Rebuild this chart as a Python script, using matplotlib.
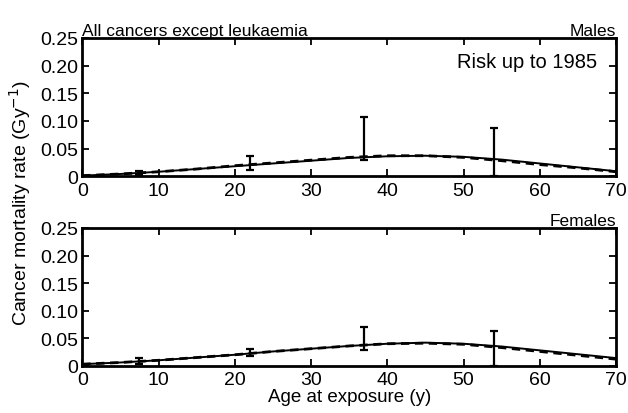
import matplotlib.pyplot as plt

plt.rcParams['font.family'] = ['Liberation Sans', 'DejaVu Sans']

# fitted curves (age at exposure vs rate)
curve_age = [0, 5, 10, 15, 20, 25, 30, 35, 40, 45, 50, 55, 60, 65, 70]
males_solid = [0.001, 0.004, 0.008, 0.013, 0.018, 0.023, 0.028, 0.033, 0.036, 0.037, 0.035, 0.030, 0.023, 0.016, 0.009]
males_dashed = [0.001, 0.004, 0.008, 0.013, 0.019, 0.024, 0.029, 0.034, 0.037, 0.037, 0.034, 0.028, 0.021, 0.015, 0.008]
females_solid = [0.003, 0.006, 0.010, 0.015, 0.020, 0.026, 0.031, 0.036, 0.040, 0.042, 0.040, 0.035, 0.028, 0.021, 0.014]
females_dashed = [0.003, 0.006, 0.010, 0.015, 0.020, 0.026, 0.031, 0.036, 0.040, 0.041, 0.039, 0.033, 0.026, 0.019, 0.012]

# observed points with error bars
obs_age = [7.5, 22, 37, 54]
males_obs = [0.005, 0.020, 0.034, 0.030]
males_low = [0.002, 0.012, 0.030, 0.0]
males_high = [0.009, 0.036, 0.107, 0.087]
females_obs = [0.008, 0.022, 0.040, 0.035]
females_low = [0.004, 0.018, 0.029, 0.0]
females_high = [0.014, 0.030, 0.070, 0.063]

fig = plt.figure(figsize=(6.28, 4.14), dpi=100)
ax1 = fig.add_axes([0.131, 0.572, 0.850, 0.334])
ax2 = fig.add_axes([0.131, 0.114, 0.850, 0.333])

panels = [
    (ax1, males_solid, males_dashed, males_obs, males_low, males_high, 'Males'),
    (ax2, females_solid, females_dashed, females_obs, females_low, females_high, 'Females'),
]

for ax, solid, dashed, obs, low, high, sex in panels:
    ax.plot(curve_age, solid, color='black', lw=1.4)
    ax.plot(curve_age, dashed, color='black', lw=2.0, ls=(0, (3, 2)))
    yerr = [[o - l for o, l in zip(obs, low)], [h - o for o, h in zip(obs, high)]]
    ax.errorbar(obs_age, obs, yerr=yerr, fmt='none', ecolor='black',
                elinewidth=1.6, capsize=3, capthick=1.6)
    ax.set_xlim(0, 70)
    ax.set_ylim(0, 0.25)
    ax.set_xticks([0, 10, 20, 30, 40, 50, 60, 70])
    ax.set_yticks([0, 0.05, 0.10, 0.15, 0.20, 0.25])
    ax.set_yticklabels(['0', '0.05', '0.10', '0.15', '0.20', '0.25'])
    ax.tick_params(direction='in', top=True, right=True, labelsize=14,
                   length=5, width=1.3)
    ax.tick_params(axis='x', pad=4)
    ax.tick_params(axis='y', pad=3)
    for s in ax.spines.values():
        s.set_linewidth(2.0)
    ax.set_title(sex, loc='right', fontsize=12.5, pad=2)

ax1.set_title('All cancers except leukaemia', loc='left', fontsize=12.5, pad=2)
ax1.text(0.965, 0.833, 'Risk up to 1985', transform=ax1.transAxes,
         ha='right', va='center', fontsize=14.5)

ax2.set_xlabel('Age at exposure (y)', fontsize=13.5, labelpad=0)
fig.text(0.032, 0.51, 'Cancer mortality rate (Gy$^{-1}$)', rotation=90,
         ha='center', va='center', fontsize=14)

fig.savefig('out.png', dpi=100)
